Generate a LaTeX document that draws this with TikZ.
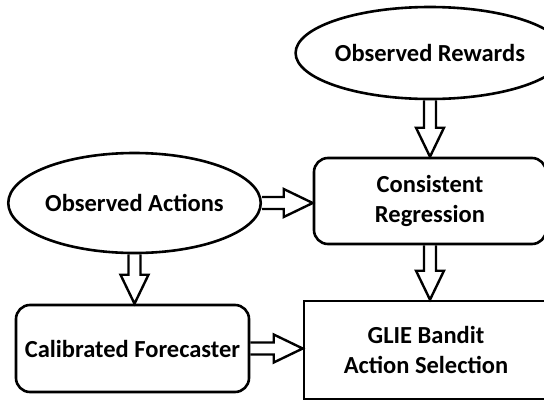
\documentclass[tikz,border=0pt]{standalone}
\usepackage{fontspec}
\setmainfont{Carlito}
\usetikzlibrary{calc,shapes.geometric}
\tikzset{
  box/.style={draw=black, line width=2.6pt, inner sep=0pt, align=center,
    font=\fontsize{24.5}{29.5}\selectfont\bfseries},
  oval/.style={box, ellipse},
  soft/.style={box, rounded corners=14pt},
  flow/.style={draw=black, line width=2.4pt, line join=miter,
    to path={let \p1=($(\tikztotarget)!29pt!(\tikztostart)$) in
      ($(\tikztostart)!6pt!90:(\tikztotarget)$) -- ($(\p1)!6pt!90:(\tikztotarget)$)
      -- ($(\p1)!14pt!90:(\tikztotarget)$) -- (\tikztotarget)
      -- ($(\p1)!14pt!-90:(\tikztotarget)$) -- ($(\p1)!6pt!-90:(\tikztotarget)$)
      -- ($(\tikztostart)!6pt!-90:(\tikztotarget)$)}},
}

\begin{document}
\begin{tikzpicture}[x=1pt,y=-1pt]
  \useasboundingbox (0,0) rectangle (544,405);
  \clip (0,0) rectangle (544,405);

  % inputs
  \node[oval, minimum width=246pt, minimum height=92pt] (rewards) at (430,53) {Observed Rewards};
  \node[oval, minimum width=247pt, minimum height=100pt] (actions) at (134.5,203) {Observed Actions};

  % learners
  \node[soft, minimum width=232pt, minimum height=86pt] (regress) at (430,201) {Consistent\\Regression};
  \node[soft, minimum width=233pt, minimum height=87pt] (forecast) at (132.5,348.5) {Calibrated Forecaster};

  % selection
  \node[box, minimum width=244pt, minimum height=98pt] (glie) at (426,350) {GLIE Bandit\\Action Selection};

  \draw[flow] (rewards.south) to (regress.north);
  \draw[flow] (regress.south) to (regress.south |- glie.north);
  \draw[flow] (actions.east) to (actions.east -| regress.west);
  \draw[flow] (actions.south) to (actions.south |- forecast.north);
  \draw[flow] (forecast.east) to (forecast.east -| glie.west);
\end{tikzpicture}
\end{document}
